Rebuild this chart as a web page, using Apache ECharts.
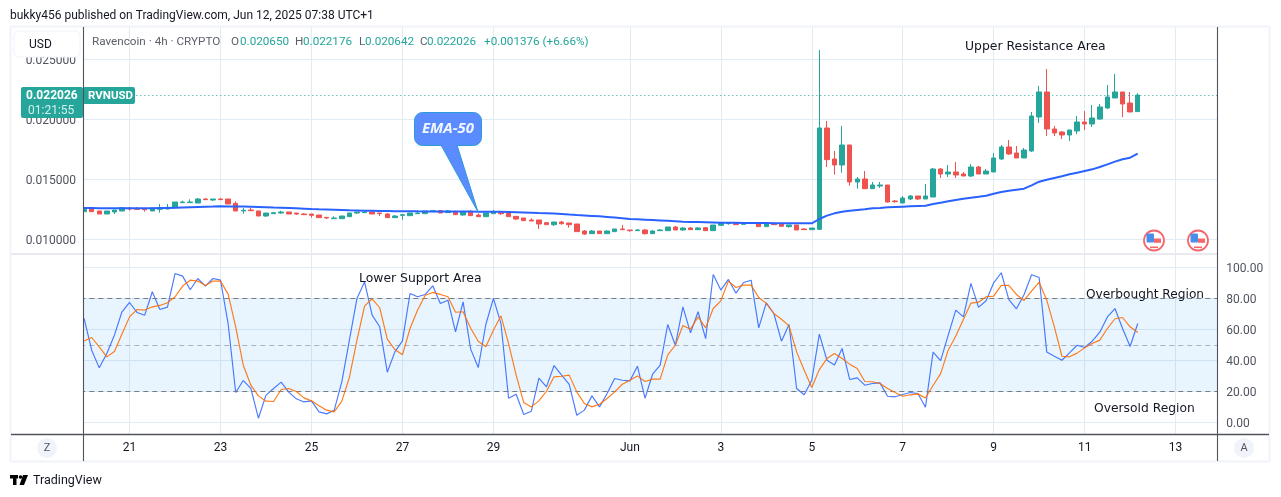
<!DOCTYPE html>
<html><head><meta charset="utf-8">
<style>html,body{margin:0;padding:0;background:#fff}#c{width:1281px;height:497px}</style>
<script src="https://cdn.jsdelivr.net/npm/echarts@6/dist/echarts.min.js"></script>
</head><body><div id="c"></div>
<script>
const opens=[
0.012311,0.012617,0.012367,0.012116,0.012283,0.012367,0.012617,0.012561,0.012561,0.012367,
0.012505,0.012533,0.012644,0.013061,0.013061,0.013033,0.013367,0.013283,0.013367,0.013367,
0.013005,0.012367,0.012450,0.012367,0.011950,0.012144,0.012200,0.012283,0.012200,0.012116,
0.012116,0.012033,0.011839,0.011728,0.011728,0.011894,0.012200,0.012228,0.012283,0.012200,
0.012116,0.011811,0.012005,0.011978,0.012144,0.012144,0.012311,0.012394,0.012228,0.012311,
0.012033,0.012283,0.012033,0.011895,0.012145,0.012283,0.012200,0.011922,0.011784,0.011617,
0.011617,0.011395,0.011228,0.011450,0.011367,0.011284,0.010700,0.010478,0.010700,0.010478,
0.010645,0.010867,0.010783,0.010728,0.010783,0.010478,0.010728,0.010728,0.011033,0.010783,
0.010950,0.010811,0.010978,0.010728,0.011172,0.011311,0.011395,0.011256,0.011339,0.011367,
0.011061,0.011339,0.011256,0.011061,0.011200,0.010867,0.010811,0.010839,0.019284,0.016700,
0.016201,0.017867,0.014784,0.015034,0.014228,0.014450,0.014534,0.013200,0.013033,0.013367,
0.013617,0.013367,0.013533,0.015867,0.015450,0.015617,0.015450,0.015284,0.016034,0.015450,
0.015617,0.016700,0.017701,0.017201,0.016784,0.017367,0.020201,0.022284,0.019201,0.018951,
0.018701,0.019034,0.019784,0.019617,0.020034,0.020951,0.021784,0.022284,0.021368,0.020650];
const closes=[
0.012617,0.012311,0.012116,0.012367,0.012450,0.012644,0.012533,0.012505,0.012478,0.012617,
0.012561,0.012672,0.013117,0.013117,0.013117,0.013367,0.013311,0.013367,0.013311,0.012950,
0.012367,0.012422,0.012394,0.011950,0.012200,0.012228,0.012283,0.012116,0.012116,0.012061,
0.012005,0.011811,0.011783,0.011783,0.011950,0.012200,0.012283,0.012283,0.012116,0.012144,
0.011811,0.011950,0.012061,0.012200,0.012200,0.012367,0.012394,0.012200,0.012367,0.012061,
0.012283,0.011978,0.011895,0.012200,0.012311,0.012145,0.011895,0.011700,0.011561,0.011534,
0.011284,0.011228,0.011450,0.011311,0.011228,0.010645,0.010450,0.010700,0.010478,0.010700,
0.010867,0.010811,0.010728,0.010783,0.010478,0.010700,0.010783,0.011033,0.010783,0.010950,
0.010811,0.010950,0.010728,0.011200,0.011367,0.011367,0.011228,0.011367,0.011395,0.011061,
0.011339,0.011228,0.011089,0.011200,0.010783,0.010811,0.010950,0.019284,0.016645,0.016201,
0.017867,0.014784,0.015034,0.014228,0.014534,0.014534,0.013117,0.013145,0.013450,0.013617,
0.013367,0.013617,0.015867,0.015450,0.015617,0.015367,0.015284,0.016034,0.015450,0.015700,
0.016784,0.017701,0.017117,0.016784,0.017451,0.020284,0.022284,0.019201,0.018867,0.018701,
0.019117,0.019784,0.019617,0.020117,0.021034,0.021868,0.022284,0.021284,0.020617,0.022026];
const lows=[
0.012311,0.012311,0.012116,0.012116,0.012116,0.012367,0.012394,0.012450,0.012311,0.012367,
0.012228,0.012505,0.012644,0.013061,0.013061,0.013033,0.013283,0.013200,0.013283,0.012950,
0.012367,0.012144,0.012367,0.011950,0.011866,0.012144,0.012144,0.012116,0.012033,0.012033,
0.011811,0.011811,0.011700,0.011700,0.011728,0.011894,0.012116,0.012200,0.012116,0.011950,
0.011811,0.011783,0.011644,0.011978,0.012116,0.012144,0.012311,0.012200,0.012228,0.012061,
0.011978,0.011978,0.011895,0.011895,0.012145,0.012033,0.011895,0.011617,0.011561,0.011534,
0.010867,0.011228,0.011117,0.011228,0.010978,0.010645,0.010367,0.010478,0.010478,0.010478,
0.010645,0.010811,0.010645,0.010728,0.010395,0.010478,0.010728,0.010728,0.010783,0.010728,
0.010811,0.010811,0.010728,0.010728,0.011117,0.011228,0.011228,0.011256,0.011339,0.011061,
0.011061,0.011228,0.011089,0.010978,0.010783,0.010811,0.010811,0.010783,0.016034,0.015395,
0.015562,0.014478,0.014228,0.014228,0.014228,0.014284,0.013061,0.013061,0.013033,0.013283,
0.013283,0.013367,0.013533,0.015117,0.015200,0.015117,0.015284,0.015200,0.015450,0.015450,
0.015617,0.016617,0.017034,0.016784,0.016784,0.017284,0.019701,0.018617,0.018617,0.018367,
0.018200,0.018784,0.019117,0.019367,0.019951,0.020867,0.021784,0.020201,0.020617,0.020642];
const highs=[
0.012617,0.012700,0.012367,0.012367,0.012450,0.012644,0.012700,0.012700,0.012617,0.012617,
0.012950,0.012950,0.013117,0.013228,0.013339,0.013450,0.013450,0.013367,0.013450,0.013367,
0.013172,0.012617,0.012617,0.012367,0.012200,0.012283,0.012394,0.012283,0.012200,0.012200,
0.012116,0.012033,0.011839,0.011922,0.011950,0.012200,0.012283,0.012394,0.012394,0.012200,
0.012200,0.012033,0.012116,0.012200,0.012394,0.012367,0.012394,0.012450,0.012450,0.012394,
0.012283,0.012450,0.012172,0.012200,0.012450,0.012283,0.012283,0.011922,0.011784,0.011756,
0.011617,0.011450,0.011450,0.011534,0.011367,0.011284,0.010783,0.010783,0.010700,0.010756,
0.010867,0.011200,0.010783,0.010867,0.010867,0.010783,0.010867,0.011033,0.011117,0.011033,
0.011033,0.011033,0.011033,0.011200,0.011367,0.011422,0.011395,0.011367,0.011395,0.011367,
0.011339,0.011339,0.011339,0.011200,0.011200,0.010950,0.010950,0.025785,0.019867,0.017367,
0.019451,0.017867,0.015200,0.015700,0.014784,0.014784,0.014534,0.013283,0.013617,0.013700,
0.013617,0.014617,0.015950,0.015950,0.016201,0.016450,0.015617,0.016284,0.016117,0.015867,
0.017201,0.017867,0.018284,0.017784,0.017617,0.020617,0.022784,0.024201,0.019451,0.019034,
0.019117,0.020284,0.020701,0.021201,0.021284,0.022868,0.023784,0.022284,0.022284,0.022176];
const ema50=[
0.012617,0.012610,0.012600,0.012600,0.012600,0.012590,0.012590,0.012590,0.012590,0.012600,
0.012610,0.012620,0.012640,0.012660,0.012680,0.012700,0.012720,0.012735,0.012755,0.012750,
0.012745,0.012735,0.012720,0.012700,0.012680,0.012660,0.012644,0.012620,0.012590,0.012560,
0.012530,0.012505,0.012485,0.012465,0.012445,0.012425,0.012410,0.012394,0.012385,0.012375,
0.012365,0.012355,0.012350,0.012345,0.012339,0.012335,0.012330,0.012328,0.012325,0.012320,
0.012318,0.012315,0.012311,0.012311,0.012311,0.012295,0.012275,0.012255,0.012235,0.012215,
0.012190,0.012172,0.012150,0.012110,0.012070,0.012033,0.012000,0.011960,0.011920,0.011870,
0.011820,0.011760,0.011700,0.011670,0.011640,0.011610,0.011580,0.011550,0.011520,0.011478,
0.011460,0.011445,0.011430,0.011415,0.011395,0.011385,0.011380,0.011375,0.011370,0.011365,
0.011360,0.011355,0.011350,0.011345,0.011342,0.011340,0.011339,0.011700,0.011978,0.012172,
0.012311,0.012395,0.012450,0.012506,0.012589,0.012617,0.012672,0.012700,0.012728,0.012756,
0.012784,0.012811,0.012950,0.013061,0.013172,0.013283,0.013394,0.013478,0.013561,0.013645,
0.013811,0.013950,0.014062,0.014145,0.014228,0.014506,0.014811,0.014978,0.015117,0.015256,
0.015423,0.015562,0.015700,0.015839,0.016034,0.016256,0.016478,0.016673,0.016811,0.017145];
const stochK=[
67.0,46.5,35.1,44.4,56.2,71.3,77.3,70.8,69.1,84.2,
72.8,74.3,96.0,94.3,85.5,92.8,87.9,92.8,91.7,63.7,
19.2,26.9,21.8,2.6,17.5,21.8,25.9,19.4,15.1,13.1,
13.8,6.7,5.4,7.8,26.1,53.0,79.9,90.6,69.1,61.6,
32.3,45.4,52.5,83.1,81.0,82.5,88.1,76.7,78.8,58.4,
77.7,47.2,35.3,63.1,79.9,63.7,15.5,18.1,5.0,7.1,
28.4,22.8,36.6,30.4,24.5,4.5,7.8,17.0,9.9,18.5,
28.2,27.1,26.7,36.2,15.5,31.0,36.8,63.1,49.7,74.5,
57.7,71.3,54.0,95.4,85.3,92.2,83.3,90.2,91.7,60.9,
77.1,70.2,52.3,63.1,21.8,17.7,27.1,56.9,40.0,37.0,
47.6,27.6,28.6,23.9,25.0,25.4,16.8,16.4,17.9,19.2,
18.5,9.7,45.2,39.8,56.2,72.4,68.0,89.6,74.1,78.4,
90.0,96.5,79.2,73.2,82.3,95.2,93.4,45.4,42.6,40.0,
44.8,49.7,48.2,52.3,58.1,68.0,73.4,60.5,48.9,63.7];
const stochD=[
52.5,54.7,48.7,42.2,45.6,56.9,68.0,72.8,72.4,74.5,
75.4,77.1,81.0,87.9,91.7,91.1,88.3,91.1,91.1,82.7,
61.6,36.8,23.9,17.0,13.6,13.4,21.1,21.8,19.8,15.7,
13.8,10.6,7.8,6.7,13.6,28.9,53.0,74.9,79.7,73.9,
53.6,46.9,43.5,60.5,72.4,82.0,83.8,82.5,81.0,71.0,
71.3,60.7,52.3,48.7,59.4,68.7,50.8,30.4,12.7,9.9,
13.8,20.0,29.3,29.7,30.4,19.6,12.1,9.9,11.6,15.3,
19.6,24.5,27.1,29.9,26.3,27.8,27.8,43.5,49.7,62.4,
60.1,68.0,60.9,73.4,78.4,91.1,87.0,88.5,88.5,80.5,
76.7,70.2,66.5,62.2,45.4,33.6,22.4,34.0,41.1,44.4,
41.1,37.5,34.7,26.3,26.1,25.0,21.8,19.2,16.8,17.7,
18.3,15.7,23.7,31.4,46.5,55.6,66.3,76.9,77.5,81.0,
81.4,88.3,88.3,82.5,78.6,84.6,90.4,78.8,61.6,42.6,
42.2,44.6,48.0,50.8,53.0,60.5,66.8,67.6,61.6,57.9];
const dayLabels=['21','23','25','27','29','Jun','3','5','7','9','11','13'];
const dayBars=[6,18,30,42,54,72,84,96,108,120,132,144];
const priceTicks=[0.010,0.015,0.020,0.025];
const stochTicks=[0,20,40,60,80,100];
const stochLevels=[20,50,80];
const lastPrice=0.022026;
const BAR_SLOTS=150;

const categories=Array.from({length:BAR_SLOTS},(_,i)=>{const k=dayBars.indexOf(i);return k>=0?dayLabels[k]:'';});
const isDay=(i)=>dayBars.indexOf(i)>=0;
const candles=opens.map((o,i)=>[o,closes[i],lows[i],highs[i]]);

const GREEN='#26a69a',RED='#ef5350',BLUE='#2962ff',ORANGE='#ff6d00',GRID='#e2ebf1',FRAME='#f0f3fa',AXIS='#50535e',INK='#131722';
const FONT='Roboto, sans-serif', NOTE='"DejaVu Sans", sans-serif';

const T=(x,y,text,fill,size,extra)=>({type:'text',x,y:y+1,z:110,silent:true,style:Object.assign({text,fill,font:size+'px '+FONT,textAlign:'left',textVerticalAlign:'middle'},extra||{})});
const R=(x,y,w,h,fill,r,extra)=>({type:'rect',z:100,silent:true,shape:{x,y,width:w,height:h,r:r||0},style:Object.assign({fill},extra||{})});
const L=(x1,y1,x2,y2,stroke,w)=>({type:'line',z:105,silent:true,shape:{x1,y1,x2,y2},style:{stroke,lineWidth:w||1}});
const flag=(cx,cy)=>[
 {type:'circle',z:100,silent:true,shape:{cx,cy,r:10},style:{fill:'#fff',stroke:'#f4666c',lineWidth:1.8}},
 R(cx-7.5,cy-7,7.5,9,'#4a8ee8',1),
 R(cx,cy-2,7,4.3,'#f4666c'),
 R(cx-4,cy+6,8,1.6,'#f4666c')
];

const elements=[
 R(80,27,3,407,'#fff'),
 // outer frame
 L(10.5,26.5,1269.5,26.5,FRAME,2),L(10.5,26.5,10.5,461.5,FRAME,2),L(1269.5,26.5,1269.5,461.5,FRAME,2),L(10.5,461.5,1269.5,461.5,FRAME,2),
 L(11,254,1217,254,'#e0e3eb',1.5),
 L(83.5,27,83.5,461,AXIS,1.1),L(1217.5,27,1217.5,461,AXIS,1.1),L(11,434.5,1269,434.5,AXIS,1.3),
 // USD button
 R(14,31,66,26,'#fff',5,{stroke:FRAME,lineWidth:1}),
 T(29,44,'USD',INK,12),
 // last price tag
 R(21,87,62,31,GREEN,2),R(83,87,52,17,GREEN,2),
 T(26,95,'0.022026','#fff',12,{font:'bold 12px '+FONT}),
 T(28,109.5,'01:21:55','#d5f0ec',12),
 T(88,95,'RVNUSD','#fff',12,{font:'bold 11.5px '+FONT}),
 // header
 T(10,14.5,'bukky456 published on TradingView.com, Jun 12, 2025 07:38 UTC+1',INK,12),
 T(92,41.5,'Ravencoin · 4h · CRYPTO','#5d606b',11.7),
 T(231,41.5,'O','#5d606b',11.7),T(240,41.5,'0.020650',GREEN,11.7),
 T(295,41.5,'H','#5d606b',11.7),T(303,41.5,'0.022176',GREEN,11.7),
 T(359,41.5,'L','#5d606b',11.7),T(365,41.5,'0.020642',GREEN,11.7),
 T(420,41.5,'C','#5d606b',11.7),T(427,41.5,'0.022026',GREEN,11.7),
 T(484,41.5,'+0.001376 (+6.66%)',GREEN,11.7),
 // annotations
 T(965,45.5,'Upper Resistance Area',INK,12.4,{font:'12.4px '+NOTE}),
 T(359,277.5,'Lower Support Area',INK,12.4,{font:'12.4px '+NOTE}),
 T(1086,293.5,'Overbought Region',INK,12.2,{font:'12.2px '+NOTE}),
 T(1094,407.5,'Oversold Region',INK,12.3,{font:'12.3px '+NOTE}),
 // EMA-50 callout
 {type:'polygon',z:100,silent:true,shape:{points:[[441,145],[457,145],[478,212]]},style:{fill:'#5b8cff',stroke:'#2c9ad8',lineWidth:1}},
 R(414.5,112.5,67,33,'#5b8cff',8,{stroke:'#2c9ad8',lineWidth:1}),
 R(441.5,143,15,4,'#5b8cff'),
 T(448,128,'EMA-50','#f2f6ff',15,{font:'italic bold 15px "Open Sans", sans-serif',textAlign:'center'}),
 // event flags
 ...flag(1154,240.5),...flag(1198,240.5),
 // axis corner buttons
 {type:'circle',z:100,silent:true,shape:{cx:47,cy:448,r:10},style:{fill:FRAME}},
 {type:'circle',z:100,silent:true,shape:{cx:1244,cy:448,r:10},style:{fill:FRAME}},
 T(47,447.5,'Z','#50535e',11,{textAlign:'center'}),
 T(1244,447.5,'A','#50535e',11,{textAlign:'center'}),
 // footer
 R(10,475,8,3.5,'#000'),R(13,475,3.5,10,'#000'),
 {type:'circle',z:100,silent:true,shape:{cx:20.5,cy:477,r:1.8},style:{fill:'#000'}},
 {type:'polygon',z:100,silent:true,shape:{points:[[23,475],[28,475],[24,485],[19.5,485]]},style:{fill:'#000'}},
 T(33,479.5,'TradingView',INK,12.5)
];

const lvlStyle=(v)=>({yAxis:v,lineStyle:{color:'#787b86',type:[5,4],width:1,opacity:v===50?0.55:1}});
const tickRich={a:{color:'#50535e',fontSize:12,fontFamily:FONT,padding:[4,0,0,0]}};

const option={
 animation:false,
 backgroundColor:'#fff',
 graphic:{elements},
 grid:[
  {left:80.3,width:1137,top:27,height:226},
  {left:80.3,width:1137,top:254,height:180}
 ],
 xAxis:[0,1].map(g=>({
  type:'category',gridIndex:g,data:categories,boundaryGap:true,
  axisLine:{show:false},axisTick:{show:false,alignWithLabel:true},
  axisLabel:g===1?{show:true,interval:(i)=>isDay(i),color:INK,fontSize:12,fontFamily:FONT,margin:8,hideOverlap:false}:{show:false},
  splitLine:{show:true,alignWithLabel:true,interval:(i)=>isDay(i),lineStyle:{color:GRID,width:1}}
 })),
 yAxis:[
  {type:'value',gridIndex:0,position:'left',min:0.008867,max:0.0277,scale:true,
   axisLine:{show:false},
   axisTick:{show:false,customValues:priceTicks},
   axisLabel:{customValues:priceTicks,formatter:(v)=>'{a|'+v.toFixed(6)+'}',rich:tickRich,margin:4.3,hideOverlap:false},
   splitLine:{show:true,lineStyle:{color:GRID,width:1}}},
  {type:'value',gridIndex:1,position:'right',min:-7.6,max:108.6,
   axisLine:{show:false},
   axisTick:{show:false,customValues:stochTicks},
   axisLabel:{customValues:stochTicks,formatter:(v)=>'{a|'+v.toFixed(2)+'}',rich:tickRich,margin:9,hideOverlap:false},
   splitLine:{show:true,lineStyle:{color:GRID,width:1}}}
 ],
 series:[
  {name:'RVNUSD',type:'candlestick',xAxisIndex:0,yAxisIndex:0,data:candles,barWidth:5,
   itemStyle:{color:GREEN,color0:RED,borderColor:GREEN,borderColor0:RED,borderWidth:1}},
  {name:'EMA-50',type:'line',xAxisIndex:0,yAxisIndex:0,data:ema50,showSymbol:false,symbol:'none',lineStyle:{color:BLUE,width:2},z:4,
   markLine:{silent:true,symbol:'none',label:{show:false},animation:false,precision:6,
    data:[{yAxis:lastPrice,lineStyle:{color:GREEN,type:[1,3],width:1}}]}},
  {name:'%K',type:'line',xAxisIndex:1,yAxisIndex:1,data:stochK,showSymbol:false,symbol:'none',lineStyle:{color:BLUE,width:1.15,opacity:.85},z:4,
   markArea:{silent:true,itemStyle:{color:'rgba(33,150,243,0.1)'},data:[[{yAxis:20},{yAxis:80}]]},
   markLine:{silent:true,symbol:'none',label:{show:false},animation:false,data:stochLevels.map(lvlStyle)}},
  {name:'%D',type:'line',xAxisIndex:1,yAxisIndex:1,data:stochD,showSymbol:false,symbol:'none',lineStyle:{color:ORANGE,width:1.15,opacity:.9},z:5}
 ]
};
echarts.init(document.getElementById('c'),null,{renderer:'canvas'}).setOption(option);
</script></body></html>
